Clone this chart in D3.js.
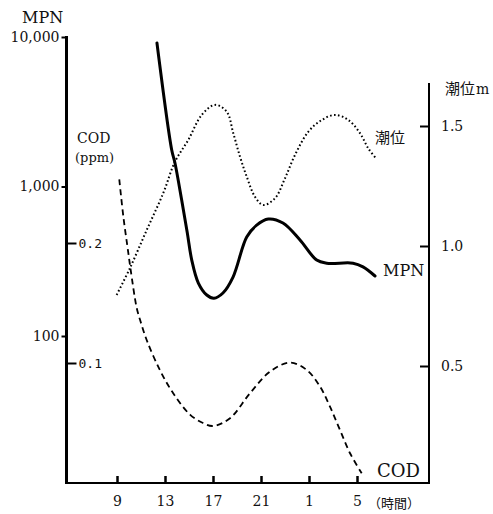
<!DOCTYPE html>
<html><head><meta charset="utf-8">
<script src="https://cdn.jsdelivr.net/npm/d3@7"></script>
<style>
body{margin:0;background:#fff;}
svg{display:block;}
text{font-family:"DejaVu Serif","Liberation Serif",serif;fill:#111;}
.cjk{font-family:"Noto Sans CJK JP","Noto Sans CJK SC",sans-serif;}
</style></head><body>
<svg id="c" width="493" height="514"></svg>
<script>
// Data
const hourTicks = [9, 13, 17, 21, 25, 29];
const hourLabels = ["9", "13", "17", "21", "1", "5"];
const mpnTicks = [100, 1000, 10000];
const mpnTickLabels = ["100", "1,000", "10,000"];
const codTicks = [0.1, 0.2];
const tideTicks = [0.5, 1.0, 1.5];

const mpnHours = [12.33, 13.56, 13.83, 14.39, 14.86, 15.23, 15.78, 16.48, 17.08, 17.83, 18.67, 19.81, 20.64, 21.61, 22.83, 24.25, 25.64, 26.48, 28.67, 29.5, 30.5];
const mpnValues = [9120, 1754, 1436, 813, 489, 322, 226, 188, 179, 194, 248, 459, 552, 606, 570, 439, 322, 307, 307, 290, 252];

const tideHours = [8.97, 10.08, 11.48, 12.86, 13.83, 14.94, 16.06, 17.17, 18.14, 18.69, 19.25, 19.81, 20.5, 21.19, 22.17, 23.0, 23.83, 24.94, 26.06, 27.17, 28.28, 29.25, 29.94, 30.64];
const tideValues = [0.796, 0.908, 1.067, 1.221, 1.351, 1.442, 1.546, 1.588, 1.56, 1.47, 1.372, 1.289, 1.205, 1.171, 1.199, 1.282, 1.379, 1.476, 1.525, 1.546, 1.525, 1.47, 1.407, 1.361];

const codHours = [9.19, 9.53, 9.94, 10.14, 10.64, 10.92, 11.48, 12.58, 13.67, 15.08, 16.17, 17.0, 18.42, 20.08, 21.75, 23.42, 24.81, 25.92, 26.75, 27.58, 28.42, 29.39];
const codValues = [0.253, 0.222, 0.192, 0.1775, 0.146, 0.136, 0.119, 0.094, 0.075, 0.057, 0.050, 0.0475, 0.054, 0.0748, 0.0928, 0.1003, 0.0942, 0.0803, 0.0636, 0.0442, 0.0248, 0.0081];

const svg = d3.select("#c");
const x = d3.scaleLinear().domain([9, 29]).range([117, 357]);
const yMPN = d3.scaleLog().domain([10, 10000]).range([485.5, 37]);
const yCOD = d3.scaleLinear().domain([0, 0.2]).range([483, 243]);
const yTide = d3.scaleLinear().domain([0, 1.5]).range([486, 126]);

const axisL = 66.5, axisR = 429, axisB = 483;

// Frame lines
svg.append("line").attr("x1", axisL).attr("x2", axisL).attr("y1", 36).attr("y2", axisB + 1).attr("stroke", "#000").attr("stroke-width", 3);
svg.append("line").attr("x1", axisR).attr("x2", axisR).attr("y1", 83).attr("y2", axisB + 1).attr("stroke", "#000").attr("stroke-width", 2);
svg.append("line").attr("x1", 65).attr("x2", axisR + 1).attr("y1", axisB).attr("y2", axisB).attr("stroke", "#000").attr("stroke-width", 2);

const serif = "'DejaVu Serif','Liberation Serif',serif";

// MPN axis (left)
const gM = svg.append("g").attr("transform", `translate(${axisL},0)`)
  .call(d3.axisLeft(yMPN).tickValues(mpnTicks).tickSize(5).tickPadding(2)
    .tickFormat(d => mpnTickLabels[mpnTicks.indexOf(d)]));
gM.select(".domain").remove();
gM.selectAll("line").attr("stroke-width", 2);
gM.selectAll("text").attr("font-size", 14).style("font-family", serif);

// COD axis (inside left)
const gC = svg.append("g").attr("transform", `translate(${axisL},0)`)
  .call(d3.axisRight(yCOD).tickValues(codTicks).tickSize(10).tickPadding(2).tickFormat(d3.format(".1f")));
gC.select(".domain").remove();
gC.selectAll("line").attr("stroke-width", 2);
gC.selectAll("text").attr("font-size", 13).style("font-family", "'DejaVu Sans Mono',monospace");

// Tide axis (right)
const gT = svg.append("g").attr("transform", `translate(${axisR},0)`)
  .call(d3.axisRight(yTide).tickValues(tideTicks).tickSize(-9).tickPadding(12).tickFormat(d3.format(".1f")));
gT.select(".domain").remove();
gT.selectAll("line").attr("stroke-width", 2);
gT.selectAll("text").attr("font-size", 14).style("font-family", serif);

// Hour axis (bottom)
const gB = svg.append("g").attr("transform", `translate(0,${axisB})`)
  .call(d3.axisBottom(x).tickValues(hourTicks).tickSize(-7).tickPadding(13)
    .tickFormat(d => hourLabels[hourTicks.indexOf(d)]));
gB.select(".domain").remove();
gB.selectAll("line").attr("stroke-width", 2.5);
gB.selectAll("text").attr("font-size", 14).style("font-family", serif);

// Curves
const mk = (hs, vs) => hs.map((h, i) => [h, vs[i]]);
const lineM = d3.line().x(d => x(d[0])).y(d => yMPN(d[1])).curve(d3.curveCatmullRom.alpha(0.5));
const lineT = d3.line().x(d => x(d[0])).y(d => yTide(d[1])).curve(d3.curveCatmullRom.alpha(0.5));
const lineC = d3.line().x(d => x(d[0])).y(d => yCOD(d[1])).curve(d3.curveCatmullRom.alpha(0.5));

svg.append("path").attr("d", lineT(mk(tideHours, tideValues))).attr("fill", "none")
  .attr("stroke", "#000").attr("stroke-width", 2).attr("stroke-dasharray", "1.6,2.4");
svg.append("path").attr("d", lineC(mk(codHours, codValues))).attr("fill", "none")
  .attr("stroke", "#000").attr("stroke-width", 1.8).attr("stroke-dasharray", "6,4");
svg.append("path").attr("d", lineM(mk(mpnHours, mpnValues))).attr("fill", "none")
  .attr("stroke", "#000").attr("stroke-width", 3).attr("stroke-linecap", "round");

// Labels
svg.append("text").attr("x", 22).attr("y", 23).attr("font-size", 16).text("MPN");
svg.append("text").attr("x", 77).attr("y", 143).attr("font-size", 14).text("COD");
svg.append("text").attr("x", 75).attr("y", 162).attr("font-size", 13).text("(ppm)");
svg.append("text").attr("x", 445).attr("y", 94).attr("font-size", 15).attr("class", "cjk").text("潮位");
svg.append("text").attr("x", 476).attr("y", 94).attr("font-size", 14).text("m");
svg.append("text").attr("x", 375).attr("y", 143).attr("font-size", 15).attr("class", "cjk").text("潮位");
svg.append("text").attr("x", 383).attr("y", 276).attr("font-size", 16).text("MPN");
svg.append("text").attr("x", 377).attr("y", 477).attr("font-size", 18).text("COD");
svg.append("text").attr("x", 368).attr("y", 508).attr("font-size", 13).attr("class", "cjk").text("（時間）");
</script></body></html>
